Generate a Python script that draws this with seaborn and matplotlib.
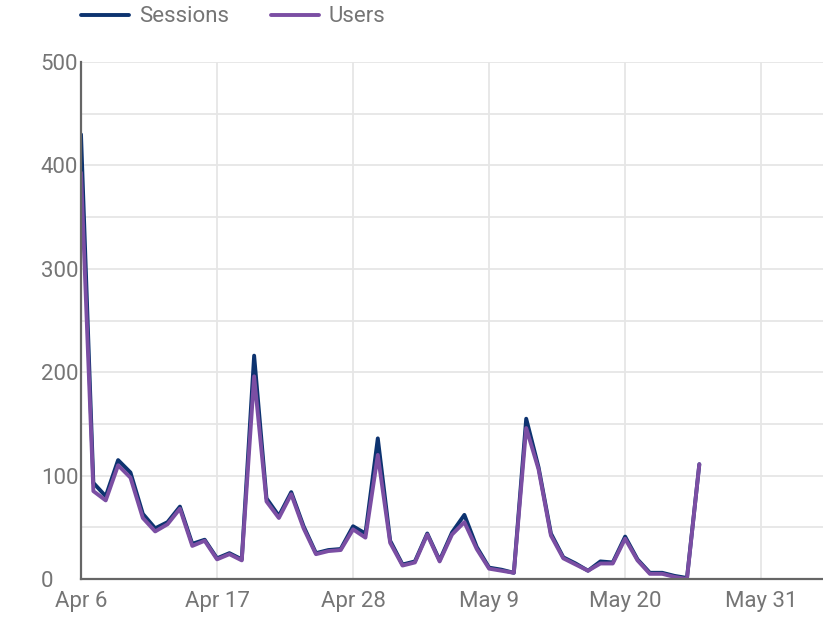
import matplotlib
matplotlib.use("Agg")
import matplotlib.pyplot as plt
import seaborn as sns
import pandas as pd
import numpy as np

# Data (daily values, Apr 6 .. May 26)
start_date = "2020-04-06"
sessions = [430, 93, 80, 115, 103, 63, 49, 55, 70, 34,
            38, 20, 25, 19, 216, 78, 61, 84, 51, 25,
            28, 29, 51, 44, 136, 37, 14, 17, 44, 18,
            45, 62, 31, 11, 9, 6, 155, 108, 44, 21,
            15, 8, 17, 16, 41, 19, 6, 6, 3, 1, 111]
users = [393, 85, 76, 110, 98, 59, 46, 53, 68, 32,
         37, 19, 24, 18, 196, 75, 59, 82, 49, 24,
         27, 28, 48, 40, 120, 35, 13, 16, 43, 17,
         43, 55, 29, 10, 8, 6, 146, 106, 42, 20,
         14, 8, 15, 15, 39, 18, 5, 5, 2, 0, 111]
series_names = ["Sessions", "Users"]
tick_dates = ["2020-04-06", "2020-04-17", "2020-04-28",
              "2020-05-09", "2020-05-20", "2020-05-31"]

dates = pd.date_range(start_date, periods=len(sessions), freq="D")
df = pd.DataFrame({
    "date": list(dates) * 2,
    "value": sessions + users,
    "series": ["Sessions"] * len(sessions) + ["Users"] * len(users),
})

sns.set_theme(style="white")
plt.rcParams["font.family"] = ["Roboto", "DejaVu Sans"]

fig = plt.figure(figsize=(8.23, 6.2), dpi=100)
ax = fig.add_axes([81 / 823, 41 / 620, 1 - 81 / 823, 517 / 620])

palette = {"Sessions": "#0d3370", "Users": "#7b4ea3"}
sns.lineplot(data=df, x="date", y="value", hue="series", hue_order=series_names,
             palette=palette, linewidth=2.8, ax=ax, legend=False)

ax.set_xlim(pd.Timestamp(start_date), pd.Timestamp(start_date) + pd.Timedelta(days=60))
ax.set_ylim(0, 500)

ticks = pd.to_datetime(tick_dates)
ax.set_xticks(ticks)
ax.set_xticklabels([f"{d:%b} {d.day}" for d in ticks])
ax.set_yticks(np.arange(0, 501, 100))
ax.set_yticks(np.arange(50, 500, 100), minor=True)

grid_c = "#e6e6e6"
ax.grid(True, which="both", axis="y", color=grid_c, linewidth=1.3)
ax.grid(True, which="major", axis="x", color=grid_c, linewidth=1.3)
ax.set_axisbelow(True)

for side in ["top", "right"]:
    ax.spines[side].set_visible(False)
for side in ["left", "bottom"]:
    ax.spines[side].set_color("#666666")
    ax.spines[side].set_linewidth(1.6)

ax.tick_params(axis="both", which="both", length=0, labelsize=16, labelcolor="#757575")
ax.tick_params(axis="x", pad=9)
ax.tick_params(axis="y", pad=29)
for lbl in ax.get_yticklabels():
    lbl.set_horizontalalignment("left")
ax.set_xlabel("")
ax.set_ylabel("")

# legend above the plot
handles = [plt.Line2D([], [], color=palette[s], linewidth=2.8) for s in series_names]
fig.legend(handles, series_names, loc="center left", bbox_to_anchor=(61 / 823, 1 - 17 / 620),
           ncol=2, frameon=False, fontsize=16, labelcolor="#757575",
           handlelength=2.15, handletextpad=0.45, columnspacing=1.9)

fig.savefig("out.png", dpi=100)
